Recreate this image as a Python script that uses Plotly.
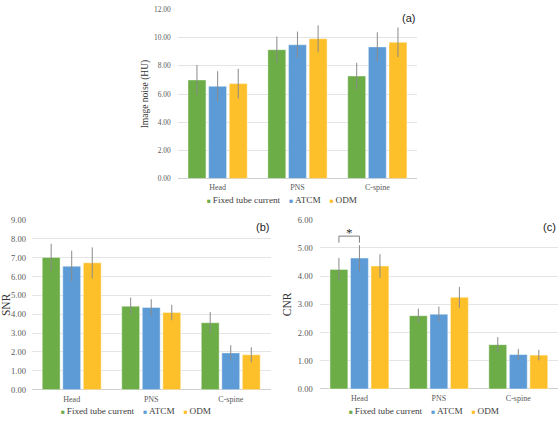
import plotly.graph_objects as go

categories = ["Head", "PNS", "C-spine"]
series_names = ["Fixed tube current", "ATCM", "ODM"]
colors = ["#6cad48", "#5d9bd6", "#fdc02a"]

# (a) Image noise (HU)
noise_vals = [[7.00, 9.15, 7.28], [6.55, 9.50, 9.35], [6.74, 9.93, 9.68]]
noise_err = [[1.07, 0.93, 0.94], [1.07, 0.94, 1.04], [1.06, 0.95, 1.05]]
# (b) SNR
snr_vals = [[7.02, 4.43, 3.55], [6.55, 4.36, 1.95], [6.73, 4.09, 1.85]]
snr_err = [[0.72, 0.46, 0.57], [0.82, 0.44, 0.41], [0.82, 0.41, 0.40]]
# (c) CNR
cnr_vals = [[4.24, 2.60, 1.57], [4.64, 2.65, 1.22], [4.36, 3.25, 1.20]]
cnr_err = [[0.41, 0.25, 0.27], [0.46, 0.27, 0.20], [0.42, 0.37, 0.19]]

y_titles = ["Image noise (HU)", "SNR", "CNR"]
y_ranges = [[0, 12], [0, 9], [0, 6]]
y_dtick = [2, 1, 1]
panel_labels = ["(a)", "(b)", "(c)"]

W, H = 560, 421
BARGAP = 0.225
GROUPGAP = 0.13
SERIF = "Liberation Serif"
SANS = "Liberation Sans"
TXT = "#595959"

# panel geometry in pixels: x0, x1, y_top, y_bottom
panels = [
    (177, 417, 4.7, 177.7),
    (31, 270, 220.3, 394.0),
    (319.3, 558, 220.0, 393.3),
]
tick_sizes = [7.4, 8.5, 8.5]
title_sizes = [9.5, 11.5, 11.5]
tick_standoff = [6, 5, 6]

fig = go.Figure()
datasets = [(noise_vals, noise_err), (snr_vals, snr_err), (cnr_vals, cnr_err)]
for p, (vals, errs) in enumerate(datasets):
    sfx = "" if p == 0 else str(p + 1)
    for s in range(3):
        fig.add_trace(go.Bar(
            x=categories, y=vals[s], name=series_names[s],
            marker=dict(color=colors[s], line=dict(color="rgba(255,255,255,0.7)", width=0.6)),
            error_y=dict(type="data", array=errs[s], color="#8a8a8a", thickness=1, width=0),
            xaxis="x" + sfx, yaxis="y" + sfx, showlegend=False,
        ))

layout = dict(
    width=W, height=H, margin=dict(l=0, r=0, t=0, b=0),
    paper_bgcolor="white", plot_bgcolor="white",
    barmode="group", bargap=BARGAP, bargroupgap=GROUPGAP,
    font=dict(family=SERIF, color=TXT, size=9),
    showlegend=False,
)

annotations = []
shapes = []
legend_centers = [(282, 200), (135.3, 415.7), (424, 415.7)]
label_pos = [(417, 13), (270, 227), (558, 227)]
for p in range(3):
    sfx = "" if p == 0 else str(p + 1)
    x0, x1, yt, yb = panels[p]
    layout["xaxis" + sfx] = dict(
        domain=[x0 / W, x1 / W], anchor="y" + sfx, type="category",
        showgrid=False, showline=False, ticks="", zeroline=False,
        tickfont=dict(family=SERIF, size=8, color=TXT), ticklabelstandoff=3,
    )
    layout["yaxis" + sfx] = dict(
        domain=[(H - yb) / H, (H - yt) / H], anchor="x" + sfx,
        range=y_ranges[p], dtick=y_dtick[p], tickformat=".2f",
        showgrid=True, gridcolor="#e4e4e4", gridwidth=1, zeroline=True,
        zerolinecolor="#d0d0d0", zerolinewidth=1, showline=False, ticks="",
        tickfont=dict(family=SERIF, size=tick_sizes[p], color=TXT), ticklabelstandoff=tick_standoff[p],
        title=dict(text=y_titles[p], font=dict(family=SERIF, size=title_sizes[p], color="#333333"),
                   standoff=3),
    )
    # legend row built from series names and colours
    parts = []
    for s in range(3):
        parts.append('<span style="color:%s;font-size:6.5px">\u25a0</span>\u2009%s' % (colors[s], series_names[s]))
    legend_text = "\u00a0\u00a0\u00a0\u00a0".join(parts)
    cx, cy = legend_centers[p]
    annotations.append(dict(
        text=legend_text, xref="paper", yref="paper", x=cx / W, y=(H - cy) / H,
        xanchor="center", yanchor="middle", showarrow=False,
        font=dict(family=SERIF, size=9.2, color="#404040"),
    ))
    lx, ly = label_pos[p]
    annotations.append(dict(
        text=panel_labels[p], xref="paper", yref="paper", x=lx / W, y=(H - ly) / H,
        xanchor="right", yanchor="middle", showarrow=False,
        font=dict(family=SANS, size=11, color="#222222"),
    ))

# significance bracket in (c): between Fixed tube current and ATCM on Head
slot = (1 - BARGAP) / 3
xg, xb = -slot, 0.0
y_br, y_tick = 5.42, 5.19
for (xa, ya, xb_, yb_) in [(xg, y_br, xb, y_br), (xg, y_tick, xg, y_br), (xb, y_tick, xb, y_br)]:
    shapes.append(dict(type="line", xref="x3", yref="y3", x0=xa, y0=ya, x1=xb_, y1=yb_,
                       line=dict(color="#7f7f7f", width=1)))
annotations.append(dict(text="*", xref="x3", yref="y3", x=(xg + xb) / 2, y=y_br,
                        xanchor="center", yanchor="bottom", showarrow=False, yshift=-6,
                        font=dict(family=SERIF, size=13, color="#333333")))

layout["annotations"] = annotations
layout["shapes"] = shapes
fig.update_layout(**layout)
fig.write_html("out.html")
